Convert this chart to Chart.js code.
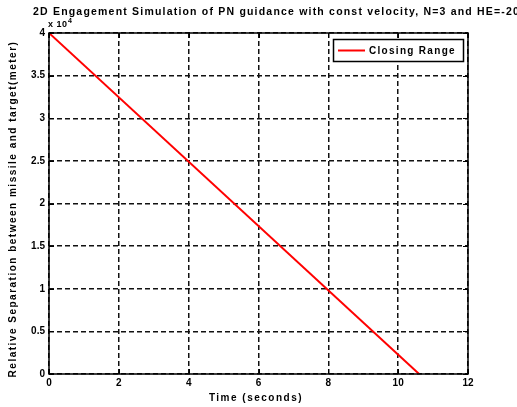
<!DOCTYPE html>
<html>
<head>
<meta charset="utf-8">
<script src="https://cdn.jsdelivr.net/npm/chart.js@4"></script>
<style>
  html, body { margin: 0; padding: 0; background: #fff; }
  #wrap { width: 517px; height: 407px; }
</style>
</head>
<body>
<div id="wrap"><canvas id="c" width="517" height="407"></canvas></div>
<script>
// Closing range (x 10^4 m) versus time (s)
const timeSec = [0, 10.6];
const rangeE4 = [4, 0];
const xTicks = [0, 2, 4, 6, 8, 10, 12];
const yTicks = [0, 0.5, 1, 1.5, 2, 2.5, 3, 3.5, 4];

const titleText = '2D Engagement Simulation of PN guidance with const velocity, N=3 and HE=-20';
const xLabel = 'Time (seconds)';
const yLabel = 'Relative Separation between missile and target(meter)';
const seriesName = 'Closing Range';

const FONT = 'Liberation Sans, Arial, sans-serif';

// axes box, inward ticks, title, labels, legend
const matlabLook = {
  id: 'matlabLook',
  afterDraw(chart) {
    const { ctx, chartArea: a, scales: { x, y } } = chart;
    ctx.save();
    ctx.strokeStyle = '#000';
    ctx.lineWidth = 1.5;
    ctx.setLineDash([]);
    ctx.strokeRect(a.left, a.top, a.right - a.left, a.bottom - a.top);

    ctx.lineWidth = 1;
    const t = 5;
    xTicks.forEach(v => {
      const px = Math.round(x.getPixelForValue(v)) + 0.5;
      ctx.beginPath();
      ctx.moveTo(px, a.bottom); ctx.lineTo(px, a.bottom - t);
      ctx.moveTo(px, a.top); ctx.lineTo(px, a.top + t);
      ctx.stroke();
    });
    yTicks.forEach(v => {
      const py = Math.round(y.getPixelForValue(v)) + 0.5;
      ctx.beginPath();
      ctx.moveTo(a.left, py); ctx.lineTo(a.left + t, py);
      ctx.moveTo(a.right, py); ctx.lineTo(a.right - t, py);
      ctx.stroke();
    });

    ctx.fillStyle = '#000';
    // title
    ctx.font = 'bold 10.5px ' + FONT;
    ctx.textAlign = 'left';
    ctx.textBaseline = 'middle';
    ctx.letterSpacing = '1.2px';
    ctx.fillText(titleText, 33, 12);

    // exponent
    ctx.letterSpacing = '0.5px';
    ctx.font = 'bold 9px ' + FONT;
    ctx.fillText('x 10', a.left - 1, 25);
    ctx.font = 'bold 7px ' + FONT;
    ctx.fillText('4', a.left + 19, 21);

    // x label
    ctx.font = 'bold 10px ' + FONT;
    ctx.letterSpacing = '1.5px';
    ctx.textAlign = 'center';
    ctx.fillText(xLabel, 256, 398);

    // y label
    ctx.save();
    ctx.translate(13, 209);
    ctx.rotate(-Math.PI / 2);
    ctx.font = 'bold 10px ' + FONT;
    ctx.letterSpacing = '1.5px';
    ctx.fillText(yLabel, 0, 0);
    ctx.restore();

    // legend
    const lx = 333, ly = 39, lw = 130, lh = 22;
    ctx.fillStyle = '#fff';
    ctx.fillRect(lx, ly, lw, lh);
    ctx.strokeStyle = '#000';
    ctx.lineWidth = 1.5;
    ctx.strokeRect(lx + 0.5, ly + 0.5, lw, lh);
    ctx.strokeStyle = '#ff0000';
    ctx.lineWidth = 2;
    ctx.beginPath();
    ctx.moveTo(338, ly + lh / 2 + 0.5); ctx.lineTo(365, ly + lh / 2 + 0.5);
    ctx.stroke();
    ctx.fillStyle = '#000';
    ctx.font = 'bold 10px ' + FONT;
    ctx.letterSpacing = '1.3px';
    ctx.textAlign = 'left';
    ctx.fillText(seriesName, 369, ly + lh / 2 + 1);
    ctx.restore();
  }
};

const tickFont = { family: FONT, size: 10, weight: 'bold' };

new Chart(document.getElementById('c'), {
  type: 'scatter',
  data: {
    datasets: [{
      label: seriesName,
      data: timeSec.map((t, i) => ({ x: t, y: rangeE4[i] })),
      showLine: true,
      borderColor: '#ff0000',
      borderWidth: 2,
      pointRadius: 0,
      tension: 0
    }]
  },
  options: {
    responsive: false,
    animation: false,
    layout: { padding: { top: 33, right: 49, left: 0, bottom: 0 } },
    plugins: { legend: { display: false }, title: { display: false }, tooltip: { enabled: false } },
    scales: {
      x: {
        type: 'linear', min: 0, max: 12,
        afterBuildTicks: s => { s.ticks = xTicks.map(v => ({ value: v })); },
        afterFit: s => { s.height = 33; },
        grid: { color: '#111', lineWidth: 1.5, tickLength: 0, drawTicks: false },
        border: { display: false, dash: [5, 3] },
        ticks: { color: '#000', font: tickFont, padding: 3, maxRotation: 0, callback: v => String(v) }
      },
      y: {
        type: 'linear', min: 0, max: 4,
        afterBuildTicks: s => { s.ticks = yTicks.map(v => ({ value: v })); },
        afterFit: s => { s.width = 49; },
        grid: { color: '#111', lineWidth: 1.5, tickLength: 0, drawTicks: false },
        border: { display: false, dash: [5, 3] },
        ticks: { color: '#000', font: tickFont, padding: 4, callback: v => String(v) }
      }
    }
  },
  plugins: [matlabLook]
});
</script>
</body>
</html>
